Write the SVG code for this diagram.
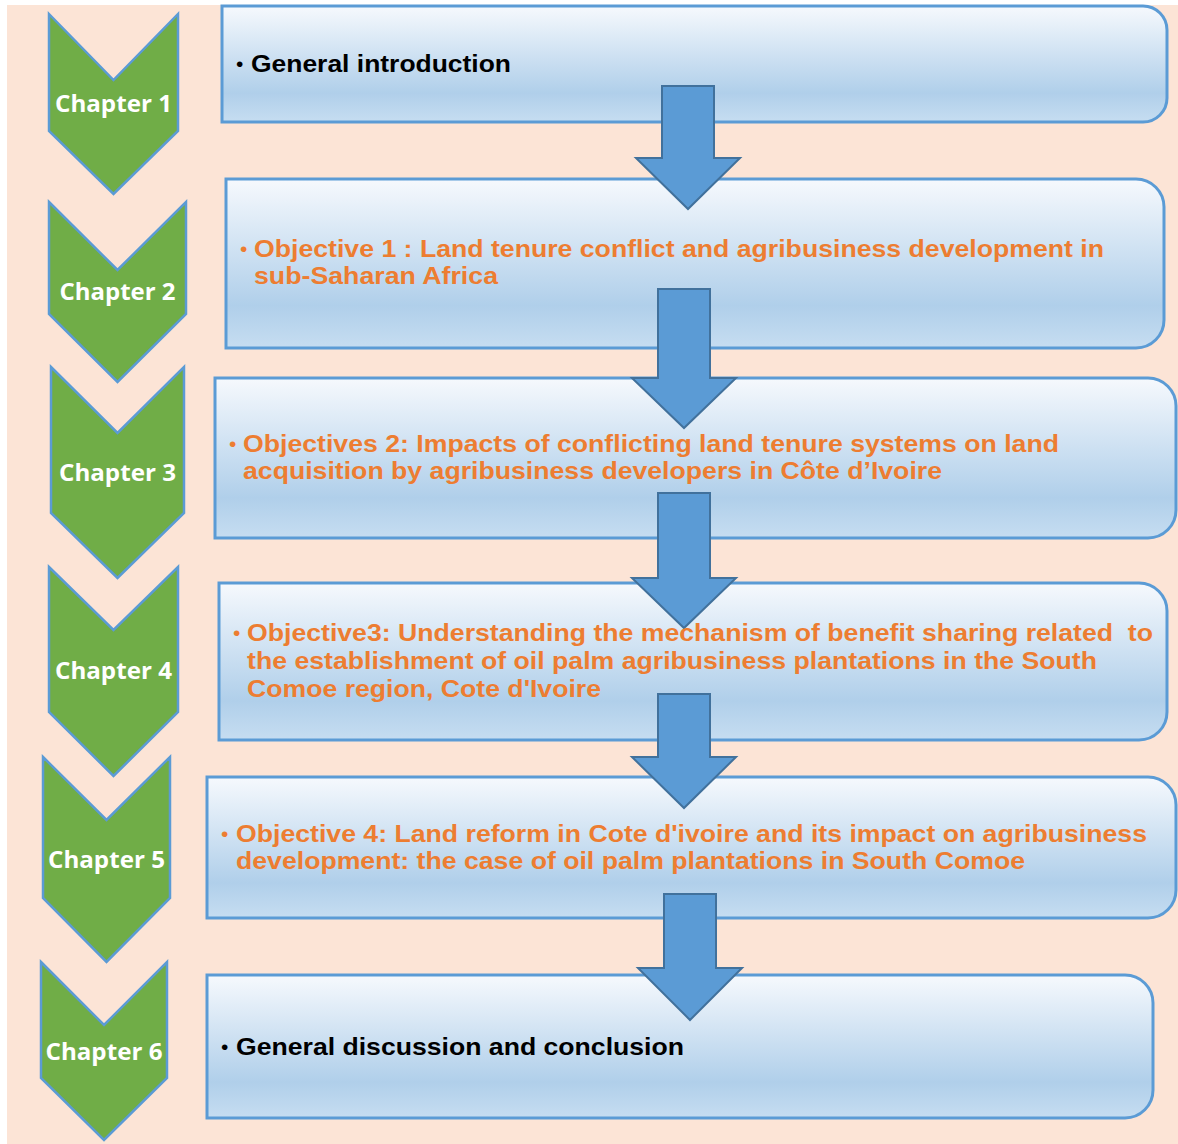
<svg xmlns="http://www.w3.org/2000/svg" width="1178" height="1144" viewBox="0 0 1178 1144">
<defs>
<linearGradient id="boxg" x1="0" y1="0" x2="0" y2="1">
<stop offset="0" stop-color="#F6F9FD"/>
<stop offset="0.75" stop-color="#B0CFEA"/>
<stop offset="1" stop-color="#C6DDF1"/>
</linearGradient>
<style>
.box{fill:url(#boxg);stroke:#5B9BD5;stroke-width:3}
.chev{fill:#70AD47;stroke:#5B9BD5;stroke-width:2.5;stroke-linejoin:miter}
.arr{fill:#5B9BD5;stroke:#41719C;stroke-width:2}
.ch{font-family:"Open Sans","Liberation Sans",sans-serif;font-weight:700;font-size:24px;fill:#FFFFFF;text-anchor:middle}
.t{font-family:"Liberation Sans",Arial,sans-serif;font-weight:700;font-size:24px;white-space:pre}
.o{fill:#ED7D31}
.k{fill:#000000}
.b{font-family:"Liberation Sans",Arial,sans-serif;font-size:21px}
</style>
</defs>
<rect x="0" y="0" width="1178" height="1144" fill="#FFFFFF"/>
<rect x="7" y="5" width="1171" height="1139" fill="#FCE4D6"/>

<g id="chevrons">
<g id="chapter1"><path class="chev" d="M49,14 L113.5,80 L178,14 L178,131 L113.5,194 L49,131 Z"/><text class="ch" x="113.5" y="112" textLength="117" lengthAdjust="spacingAndGlyphs">Chapter 1</text></g>
<g id="chapter2"><path class="chev" d="M49,202 L117.5,270 L186,202 L186,314 L117.5,382 L49,314 Z"/><text class="ch" x="117.5" y="300" textLength="116" lengthAdjust="spacingAndGlyphs">Chapter 2</text></g>
<g id="chapter3"><path class="chev" d="M51,367 L117.5,433 L184,367 L184,513 L117.5,578 L51,513 Z"/><text class="ch" x="117.5" y="481" textLength="117" lengthAdjust="spacingAndGlyphs">Chapter 3</text></g>
<g id="chapter4"><path class="chev" d="M49,567 L113.5,630 L178,567 L178,712 L113.5,776 L49,712 Z"/><text class="ch" x="113.5" y="679" textLength="117" lengthAdjust="spacingAndGlyphs">Chapter 4</text></g>
<g id="chapter5"><path class="chev" d="M43,757 L106.5,820 L170,757 L170,898 L106.5,962 L43,898 Z"/><text class="ch" x="106.5" y="868" textLength="117" lengthAdjust="spacingAndGlyphs">Chapter 5</text></g>
<g id="chapter6"><path class="chev" d="M41,962 L104,1025 L167,962 L167,1078 L104,1140 L41,1078 Z"/><text class="ch" x="104" y="1060" textLength="117" lengthAdjust="spacingAndGlyphs">Chapter 6</text></g>
</g>

<g id="box1"><path class="box" d="M222,6 H1143 A24,24 0 0 1 1167,30 V98 A24,24 0 0 1 1143,122 H222 Z"/></g>
<g id="box2"><path class="box" d="M226,179 H1136 A28,28 0 0 1 1164,207 V320 A28,28 0 0 1 1136,348 H226 Z"/></g>
<g id="box3"><path class="box" d="M215,378 H1148 A28,28 0 0 1 1176,406 V510 A28,28 0 0 1 1148,538 H215 Z"/></g>
<g id="box4"><path class="box" d="M219,583 H1139 A28,28 0 0 1 1167,611 V712 A28,28 0 0 1 1139,740 H219 Z"/></g>
<g id="box5"><path class="box" d="M207,777 H1148 A28,28 0 0 1 1176,805 V890 A28,28 0 0 1 1148,918 H207 Z"/></g>
<g id="box6"><path class="box" d="M207,975 H1125 A28,28 0 0 1 1153,1003 V1090 A28,28 0 0 1 1125,1118 H207 Z"/></g>

<g id="connectors">
<path class="arr" d="M662,86 H714 V158 H740 L688,209 L636,158 H662 Z"/>
<path class="arr" d="M658,289 H710 V378 H736 L684,428 L632,378 H658 Z"/>
<path class="arr" d="M658,493 H710 V578 H736 L684,628 L632,578 H658 Z"/>
<path class="arr" d="M658,694 H710 V757 H736 L684,808 L632,757 H658 Z"/>
<path class="arr" d="M664,894 H716 V968 H742 L690,1020 L638,968 H664 Z"/>
</g>

<g id="label1"><text class="b k" x="236" y="71">•</text><text class="t k" x="251" y="72" textLength="260" lengthAdjust="spacingAndGlyphs">General introduction</text></g>
<g id="label2"><text class="b o" x="240" y="256">•</text>
<text class="t o" x="254" y="257" textLength="850" lengthAdjust="spacingAndGlyphs">Objective 1 : Land tenure conflict and agribusiness development in</text>
<text class="t o" x="254" y="284" textLength="244" lengthAdjust="spacingAndGlyphs">sub-Saharan Africa</text></g>
<g id="label3"><text class="b o" x="229" y="451">•</text>
<text class="t o" x="243" y="452" textLength="816" lengthAdjust="spacingAndGlyphs">Objectives 2: Impacts of conflicting land tenure systems on land</text>
<text class="t o" x="243" y="479" textLength="699" lengthAdjust="spacingAndGlyphs">acquisition by agribusiness developers in Côte d’Ivoire</text></g>
<g id="label4"><text class="b o" x="233" y="640">•</text>
<text class="t o" x="247" y="641" textLength="906" lengthAdjust="spacingAndGlyphs">Objective3: Understanding the mechanism of benefit sharing related&#160; to</text>
<text class="t o" x="247" y="669" textLength="850" lengthAdjust="spacingAndGlyphs">the establishment of oil palm agribusiness plantations in the South</text>
<text class="t o" x="247" y="697" textLength="354" lengthAdjust="spacingAndGlyphs">Comoe region, Cote d'Ivoire</text></g>
<g id="label5"><text class="b o" x="221" y="841">•</text>
<text class="t o" x="236" y="842" textLength="911" lengthAdjust="spacingAndGlyphs">Objective 4: Land reform in Cote d'ivoire and its impact on agribusiness</text>
<text class="t o" x="236" y="869" textLength="789" lengthAdjust="spacingAndGlyphs">development: the case of oil palm plantations in South Comoe</text></g>
<g id="label6"><text class="b k" x="221" y="1054">•</text><text class="t k" x="236" y="1055" textLength="448" lengthAdjust="spacingAndGlyphs">General discussion and conclusion</text></g>
</svg>
